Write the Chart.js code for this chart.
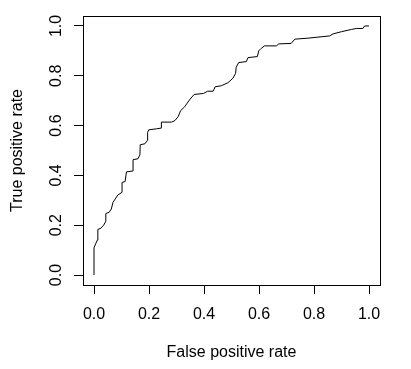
<!DOCTYPE html>
<html>
<head>
<meta charset="utf-8">
<script src="https://cdn.jsdelivr.net/npm/chart.js@4/dist/chart.umd.min.js"></script>
<style>
  html, body { margin: 0; padding: 0; background: #fff; }
  #wrap { width: 411px; height: 369px; }
</style>
</head>
<body>
<div id="wrap"><canvas id="c" width="411" height="369"></canvas></div>
<script>
// ROC curve corner points
const fpr = [0, 0, 0.006, 0.012, 0.014, 0.014, 0.025, 0.035, 0.043, 0.043, 0.055, 0.063, 0.069, 0.077, 0.087, 0.102, 0.102, 0.113, 0.118, 0.142, 0.142, 0.160, 0.167, 0.168, 0.185, 0.194, 0.195, 0.199, 0.227, 0.245, 0.245, 0.282, 0.294, 0.306, 0.315, 0.33, 0.347, 0.364, 0.398, 0.413, 0.433, 0.441, 0.463, 0.487, 0.505, 0.515, 0.517, 0.526, 0.554, 0.56, 0.594, 0.599, 0.608, 0.62, 0.663, 0.672, 0.717, 0.73, 0.778, 0.857, 0.869, 0.9, 0.936, 0.954, 0.978, 0.984, 1];
const tpr = [0, 0.11, 0.125, 0.14, 0.145, 0.183, 0.188, 0.2, 0.216, 0.247, 0.252, 0.265, 0.292, 0.305, 0.322, 0.332, 0.372, 0.375, 0.414, 0.418, 0.463, 0.467, 0.483, 0.523, 0.527, 0.54, 0.573, 0.583, 0.587, 0.59, 0.614, 0.614, 0.62, 0.636, 0.66, 0.676, 0.703, 0.725, 0.729, 0.738, 0.738, 0.756, 0.76, 0.772, 0.79, 0.81, 0.834, 0.853, 0.857, 0.873, 0.877, 0.9, 0.91, 0.92, 0.92, 0.928, 0.93, 0.947, 0.951, 0.96, 0.968, 0.977, 0.986, 0.99, 0.99, 1, 1];
const tickValues = [0, 0.2, 0.4, 0.6, 0.8, 1.0];
const xTitle = 'False positive rate';
const yTitle = 'True positive rate';

const points = fpr.map((x, i) => ({ x: x, y: tpr[i] }));
const FONT = { family: 'Liberation Sans, Arial, sans-serif', size: 16 };

const boxPlugin = {
  id: 'box',
  afterDraw(chart) {
    const a = chart.chartArea, ctx = chart.ctx;
    ctx.save();
    ctx.strokeStyle = '#000';
    ctx.lineWidth = 1;
    ctx.strokeRect(Math.round(a.left) + 0.5, Math.round(a.top) + 0.5,
                   Math.round(a.right - a.left), Math.round(a.bottom - a.top));
    ctx.restore();
  }
};

Chart.defaults.font.family = FONT.family;
Chart.defaults.color = '#000';

new Chart(document.getElementById('c'), {
  type: 'scatter',
  data: {
    datasets: [{
      data: points,
      showLine: true,
      borderColor: '#000',
      borderWidth: 1,
      pointRadius: 0,
      fill: false,
      tension: 0
    }]
  },
  options: {
    responsive: false,
    animation: false,
    layout: { padding: { top: 16, right: 31, left: 0, bottom: 0 } },
    plugins: { legend: { display: false }, tooltip: { enabled: false } },
    scales: {
      x: {
        type: 'linear', min: -0.04, max: 1.04,
        afterBuildTicks: s => { s.ticks = tickValues.map(v => ({ value: v })); },
        afterFit: s => { s.height = 84; },
        grid: { display: true, drawOnChartArea: false, drawTicks: true, tickLength: 9, color: '#000', lineWidth: 1 },
        border: { display: true, color: '#000', width: 1 },
        ticks: { font: FONT, color: '#000', padding: 11, maxRotation: 0, minRotation: 0,
                 callback: v => Number(v).toFixed(1) },
        title: { display: true, text: xTitle, font: FONT, color: '#000', padding: { top: 0, bottom: 7 } }
      },
      y: {
        type: 'linear', min: -0.04, max: 1.04,
        afterBuildTicks: s => { s.ticks = tickValues.map(v => ({ value: v })); },
        afterFit: s => { s.width = 83; },
        grid: { display: true, drawOnChartArea: false, drawTicks: true, tickLength: 9, color: '#000', lineWidth: 1 },
        border: { display: true, color: '#000', width: 1 },
        ticks: { font: FONT, color: '#000', padding: 6, minRotation: 90, maxRotation: 90, crossAlign: 'center',
                 callback: v => Number(v).toFixed(1) },
        title: { display: true, text: yTitle, font: FONT, color: '#000', padding: { top: 8, bottom: 0 } }
      }
    }
  },
  plugins: [boxPlugin]
});
</script>
</body>
</html>
